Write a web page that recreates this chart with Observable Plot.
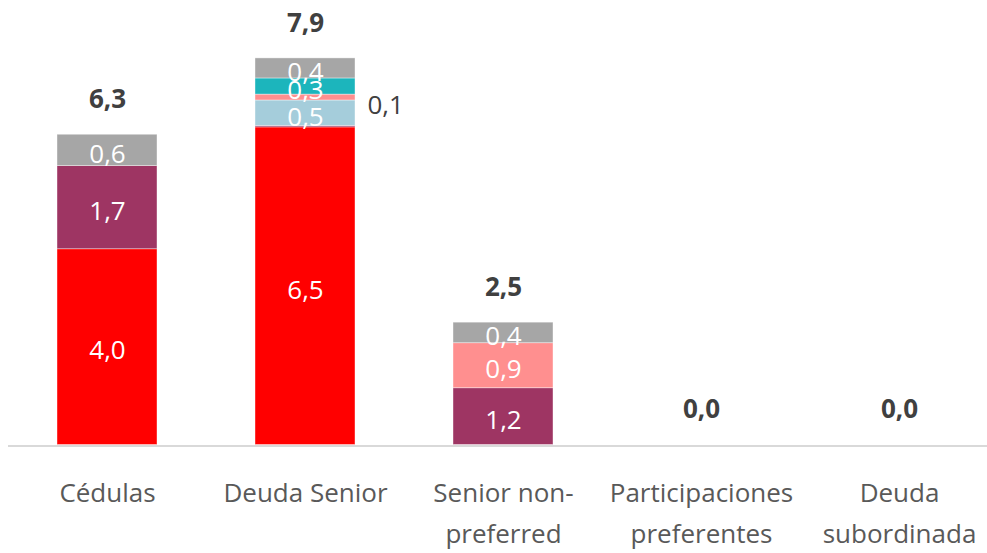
<!DOCTYPE html>
<html>
<head>
<meta charset="utf-8">
<script src="https://cdn.jsdelivr.net/npm/d3@7"></script>
<script src="https://cdn.jsdelivr.net/npm/@observablehq/plot@0.6"></script>
<style>
  html, body { margin: 0; padding: 0; background: #fff; }
  #chart svg { display: block; }
</style>
</head>
<body>
<div id="chart"></div>
<script>
const categories = ["Cédulas", "Deuda Senior", "Senior non-preferred", "Participaciones preferentes", "Deuda subordinada"];
const tickLabels = ["Cédulas", "Deuda Senior", "Senior non-\npreferred", "Participaciones\npreferentes", "Deuda\nsubordinada"];
const seriesNames = ["Serie 1", "Serie 2", "Serie 3", "Serie 4", "Serie 5", "Serie 6"];
const seriesColors = ["#FF0000", "#9E3563", "#A5CDDB", "#FF8F8F", "#1CB5BC", "#A6A6A6"];
const serie1 = [4.0, 6.49, 0, 0, 0];
const serie2 = [1.70, 0.03, 1.16, 0, 0];
const serie3 = [0, 0.52, 0, 0, 0];
const serie4 = [0, 0.12, 0.92, 0, 0];
const serie5 = [0, 0.33, 0, 0, 0];
const serie6 = [0.64, 0.41, 0.42, 0, 0];

const seriesValues = [serie1, serie2, serie3, serie4, serie5, serie6];
const rows = [];
seriesNames.forEach((s, si) => {
  categories.forEach((c, ci) => {
    rows.push({cat: c, serie: s, value: seriesValues[si][ci]});
  });
});
const totals = categories.map((c, ci) => ({cat: c, total: d3.sum(seriesValues, v => v[ci])}));
const fmt = v => v.toFixed(1).replace(".", ",");
const labelMap = new Map(categories.map((c, i) => [c, tickLabels[i]]));
const FONT = "'Open Sans', 'Noto Sans', sans-serif";
const FS = 26;

const stackOpts = {x: "cat", y: "value", z: "serie", order: seriesNames};

const chart = Plot.plot({
  width: 987,
  height: 553,
  marginLeft: 8,
  marginRight: 0,
  marginTop: 53,
  marginBottom: 108.5,
  style: {fontFamily: FONT, background: "#fff"},
  x: {domain: categories, range: [8, 998], paddingInner: 0.495, paddingOuter: 0.2475, axis: null, label: null},
  y: {domain: [0, 8], axis: null},
  color: {domain: seriesNames, range: seriesColors},
  marks: [
    Plot.barY(rows, {...stackOpts, fill: "serie", stroke: "#fff", strokeWidth: 0.8, strokeOpacity: 0.5}),
    Plot.ruleY([0], {stroke: "#D9D9D9", strokeWidth: 2, dy: 1}),
    Plot.text(rows, Plot.stackY({
      ...stackOpts,
      text: d => d.value >= 0.2 ? fmt(d.value) : null,
      fill: "#fff",
      fontSize: FS,
      dy: 4
    })),
    Plot.text(rows, Plot.stackY({
      ...stackOpts,
      text: d => (d.value > 0.05 && d.value < 0.2) ? fmt(d.value) : null,
      fill: "#404040",
      fontSize: FS,
      textAnchor: "start",
      dx: 62,
      dy: 8
    })),
    Plot.text(totals, {
      x: "cat", y: "total",
      text: d => fmt(d.total),
      fill: "#404040",
      fontSize: FS,
      fontWeight: "bold",
      dy: -35
    }),
    Plot.axisX({
      domain: categories,
      label: null,
      tickSize: 0,
      tickPadding: 27,
      fontSize: FS,
      lineHeight: 1.6,
      tickFormat: d => labelMap.get(d),
      fill: "#595959"
    })
  ]
});
document.getElementById("chart").appendChild(chart);
</script>
</body>
</html>
